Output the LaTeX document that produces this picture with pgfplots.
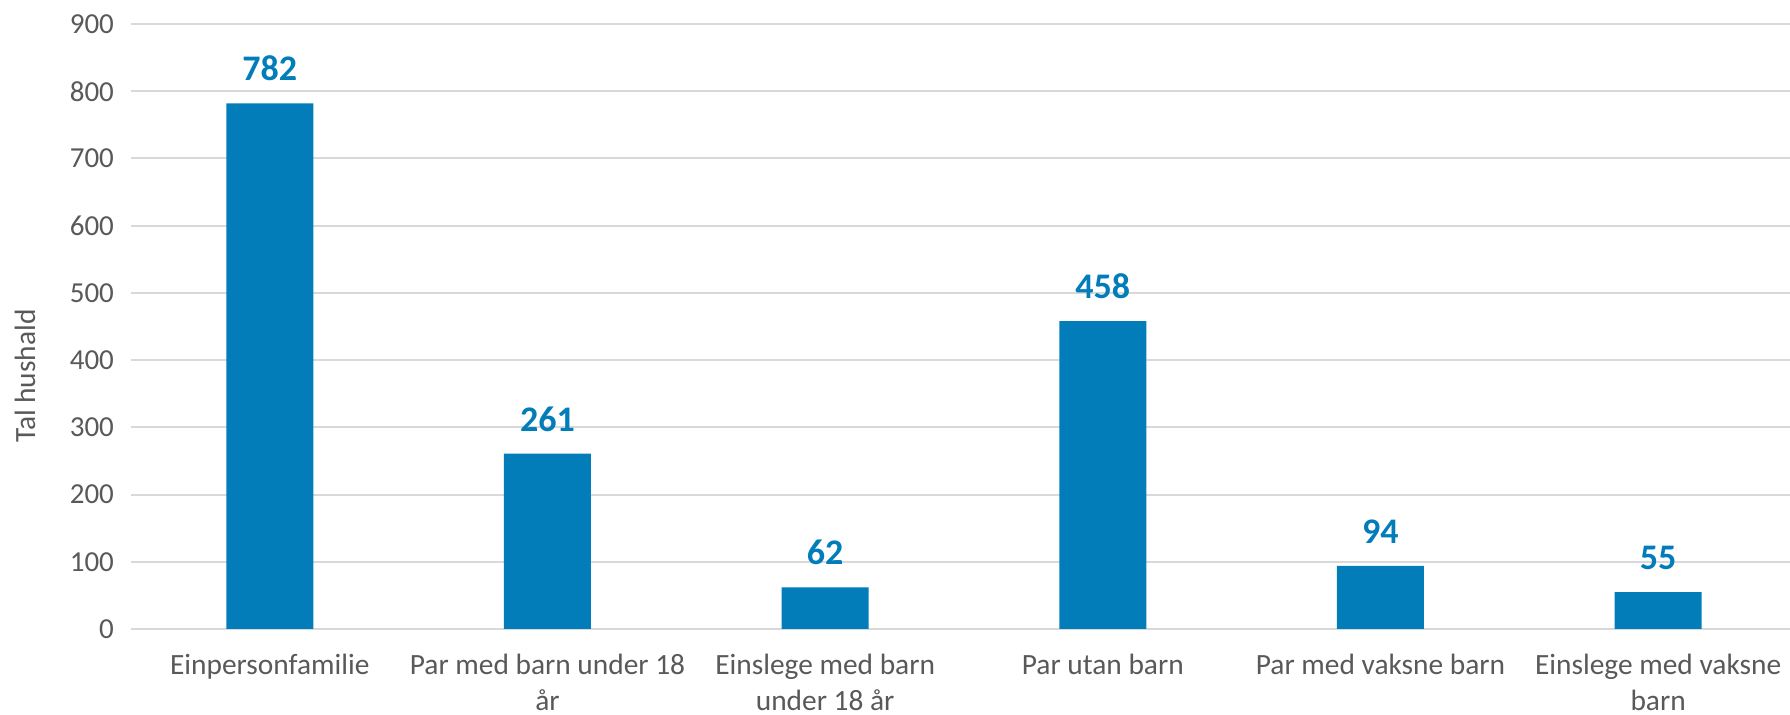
\documentclass[border=0pt]{standalone}
\usepackage{pgfplots}
\pgfplotsset{compat=1.18}
\usepackage{fontspec}
\setmainfont{Carlito}
\definecolor{barblue}{RGB}{3,125,186}
\definecolor{txtgray}{RGB}{89,89,89}
\definecolor{gridgray}{RGB}{217,217,217}
\begin{document}
\begin{tikzpicture}
\begin{axis}[
  at={(65.5pt,43pt)}, anchor=south west,
  scale only axis,
  width=829.5pt, height=302.5pt,
  xmin=-0.5, xmax=5.475,
  ymin=0, ymax=900,
  ytick={0,100,200,300,400,500,600,700,800,900},
  yticklabels={0,100,200,300,400,500,600,700,800,900},
  xtick={0,1,2,3,4,5},
  xticklabels={Einpersonfamilie,{Par med barn under 18\\år},{Einslege med barn\\under 18 år},Par utan barn,Par med vaksne barn,{Einslege med vaksne\\barn}},
  axis line style={draw=none},
  tick style={draw=none},
  ymajorgrids, grid style={gridgray, line width=1pt},
  /pgf/number format/assume math mode=true,
  yticklabel style={font=\fontsize{14.5}{17}\selectfont, text=txtgray, xshift=-5pt},
  xticklabel style={font=\fontsize{14.7}{18}\selectfont, text=txtgray, align=center, yshift=-9pt},
  ylabel={Tal hushald},
  ylabel style={font=\fontsize{14.7}{17}\selectfont, text=txtgray, at={(axis description cs:-0.0639,0.418)}, anchor=center, rotate=0},
  clip=false,
]
\addplot[ybar, bar width=43.5pt, fill=barblue, draw=none,
  nodes near coords,
  every node near coord/.append style={font=\fontsize{18}{20}\selectfont\bfseries, text=barblue, yshift=7.5pt}]
  coordinates {(0,782) (1,261) (2,62) (3,458) (4,94) (5,55)};
\end{axis}
\pgfresetboundingbox
\useasboundingbox (0,0) rectangle (895pt,357.5pt);
\end{tikzpicture}
\end{document}
